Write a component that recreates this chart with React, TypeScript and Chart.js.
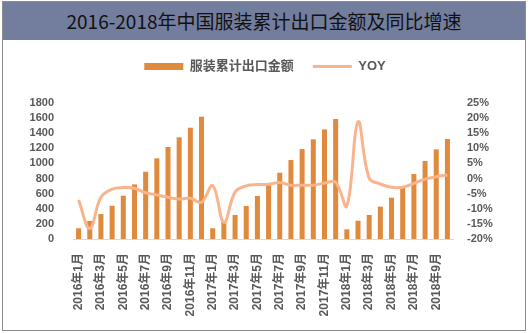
import { useEffect, useRef } from 'react';
import { Chart, registerables } from 'chart.js';

Chart.register(...registerables);

const categories = [
  '2016年1月', '2016年2月', '2016年3月', '2016年4月', '2016年5月', '2016年6月',
  '2016年7月', '2016年8月', '2016年9月', '2016年10月', '2016年11月', '2016年12月',
  '2017年1月', '2017年2月', '2017年3月', '2017年4月', '2017年5月', '2017年6月',
  '2017年7月', '2017年8月', '2017年9月', '2017年10月', '2017年11月', '2017年12月',
  '2018年1月', '2018年2月', '2018年3月', '2018年4月', '2018年5月', '2018年6月',
  '2018年7月', '2018年8月', '2018年9月', '2018年10月',
];

const exportValues = [
  142, 238, 330, 440, 573, 723, 890, 1068, 1218, 1346, 1473, 1619,
  142, 225, 318, 437, 569, 714, 877, 1045, 1190, 1319, 1451, 1588,
  128, 242, 318, 428, 547, 684, 860, 1032, 1187, 1323,
];

const yoyValues = [
  -7.1, -16.5, -6.2, -3.5, -3.0, -3.2, -4.7, -5.4, -6.2, -6.8, -6.5, -7.8,
  -2.3, -14.5, -4.5, -2.4, -2.0, -1.9, -1.3, -2.2, -2.2, -2.2, -1.5, -1.2,
  -9.1, 18.8, 0.1, -1.8, -2.9, -2.9, -1.6, -0.2, 0.6, 1.2,
];

const barLabel = '服装累计出口金额';
const lineLabel = 'YOY';
const titleText = '2016-2018年中国服装累计出口金额及同比增速';

const BAR_COLOR = '#E08A3E';
const LINE_COLOR = '#F9B48C';
const TICK_COLOR = '#595959';
const FONT = '"Liberation Sans", "Noto Sans CJK SC", sans-serif';

export default function App() {
  const ref = useRef<HTMLCanvasElement>(null);

  useEffect(() => {
    document.body.style.margin = '0';
    const legendSpacing = {
      id: 'legendSpacing',
      beforeInit(chart: any) {
        const legend = chart.legend;
        if (!legend) return;
        const fit = legend.fit;
        legend.fit = function () {
          fit.call(legend);
          this.height += 20;
        };
      },
    };
    const chart = new Chart(ref.current!, {
      type: 'bar',
      data: {
        labels: categories,
        datasets: [
          {
            type: 'line',
            label: lineLabel,
            data: yoyValues,
            yAxisID: 'y1',
            borderColor: LINE_COLOR,
            backgroundColor: LINE_COLOR,
            borderWidth: 3,
            pointRadius: 0,
            tension: 0.4,
            fill: false,
          } as any,
          {
            type: 'bar',
            label: barLabel,
            data: exportValues,
            yAxisID: 'y',
            backgroundColor: BAR_COLOR,
            borderWidth: 0,
            categoryPercentage: 1,
            barPercentage: 0.45,
          },
        ],
      },
      options: {
        responsive: false,
        animation: false,
        layout: { padding: { top: 41, left: 0, right: 0, bottom: 0 } },
        plugins: {
          tooltip: { enabled: false },
          legend: {
            position: 'top',
            labels: {
              color: TICK_COLOR,
              font: { family: FONT, size: 13, weight: 'bold' },
              usePointStyle: true,
              pointStyleWidth: 39,
              boxWidth: 39,
              boxHeight: 7,
              padding: 19,
              generateLabels: (c: any) => {
                const items = Chart.defaults.plugins.legend.labels.generateLabels(c);
                items.forEach((it: any) => {
                  if (it.text === lineLabel) {
                    it.pointStyle = 'line';
                    it.lineWidth = 3;
                    it.strokeStyle = LINE_COLOR;
                  } else {
                    it.pointStyle = 'rect';
                    it.lineWidth = 0;
                    it.fillStyle = BAR_COLOR;
                    it.strokeStyle = BAR_COLOR;
                  }
                });
                return items.reverse();
              },
            },
          },
        },
        scales: {
          x: {
            offset: true,
            grid: { display: false },
            border: { display: true, color: '#D9D9D9', width: 1 },
            ticks: {
              autoSkip: false,
              maxRotation: 90,
              minRotation: 90,
              padding: 6,
              color: TICK_COLOR,
              font: { family: FONT, size: 12, weight: 'bold' },
              callback: (_v: any, i: number) => (i % 2 === 0 ? categories[i] : ''),
            },
            afterFit: (s: any) => {
              s.height = 94;
            },
          },
          y: {
            position: 'left',
            min: 0,
            max: 1800,
            grid: { display: false },
            border: { display: false },
            ticks: {
              autoSkip: false,
              stepSize: 200,
              padding: 11,
              color: TICK_COLOR,
              font: { family: FONT, size: 11, weight: 'bold' },
              callback: (v: any) => String(v),
            },
            afterFit: (s: any) => {
              s.width = 73;
            },
          },
          y1: {
            position: 'right',
            min: -20,
            max: 25,
            grid: { display: false },
            border: { display: false },
            ticks: {
              autoSkip: false,
              stepSize: 5,
              padding: 6,
              color: TICK_COLOR,
              font: { family: FONT, size: 11, weight: 'bold' },
              callback: (v: any) => `${v}%`,
            },
            afterFit: (s: any) => {
              s.width = 77;
            },
          },
        },
      },
      plugins: [legendSpacing],
    } as any);
    return () => chart.destroy();
  }, []);

  return (
    <div style={{ position: 'relative', width: 530, height: 333, background: '#fff', overflow: 'hidden' }}>
      <canvas ref={ref} width={530} height={333} style={{ position: 'absolute', left: 0, top: 0 }} />
      <div
        style={{
          position: 'absolute',
          left: 2,
          top: 1,
          width: 524,
          height: 330,
          border: '1px solid #8C8C8C',
          boxSizing: 'border-box',
          pointerEvents: 'none',
        }}
      >
        <div
          style={{
            height: 38,
            lineHeight: '38px',
            background: '#737D9E',
            color: '#111',
            textAlign: 'center',
            fontFamily: '"Noto Sans CJK SC", sans-serif',
            fontSize: 19,
          }}
        >
          {titleText}
        </div>
      </div>
    </div>
  );
}
